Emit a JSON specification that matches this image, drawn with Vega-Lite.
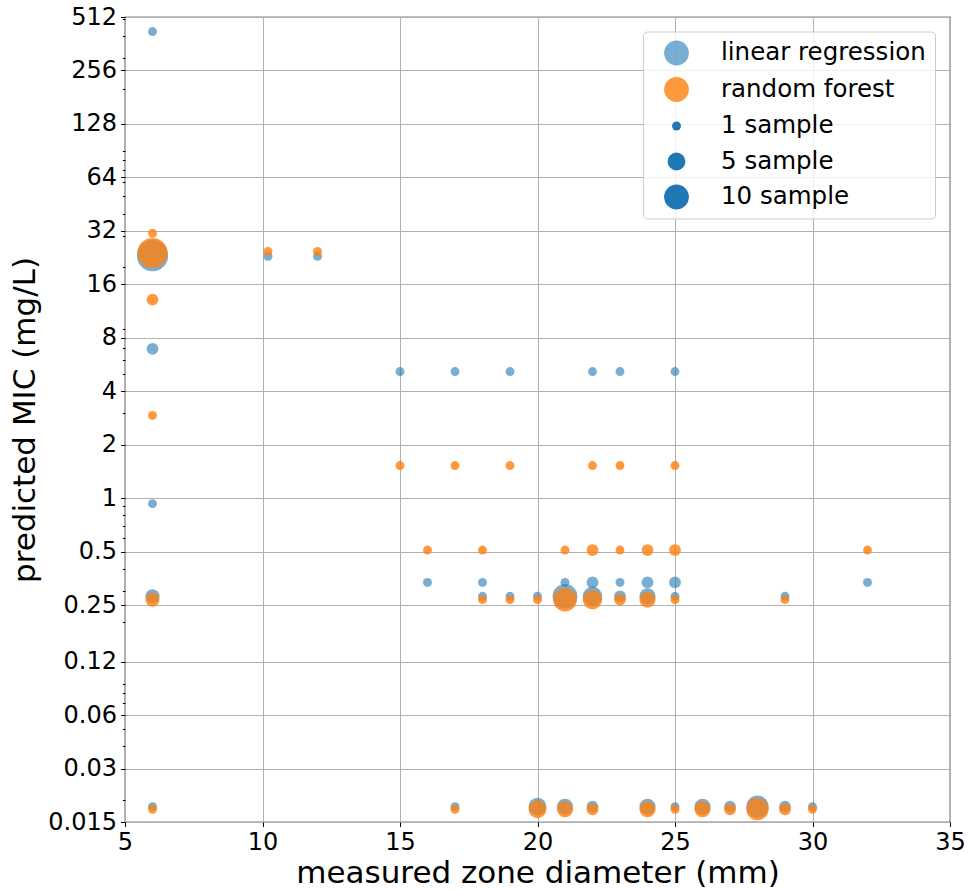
{
  "$schema": "https://vega.github.io/schema/vega-lite/v6.json",
  "width": 825,
  "height": 805,
  "autosize": {"type": "none"},
  "padding": {"left": 125, "top": 17, "right": 18, "bottom": 68},
  "background": "white",
  "config": {
    "font": "DejaVu Sans",
    "view": {"stroke": "#000000", "strokeWidth": 1.2},
    "axis": {
      "domain": false,
      "grid": true,
      "gridColor": "#b0b0b0",
      "gridWidth": 1,
      "tickColor": "#000000",
      "tickWidth": 1,
      "labelColor": "#000000",
      "labelFont": "DejaVu Sans",
      "labelFontSize": 24,
      "titleFont": "DejaVu Sans",
      "titleFontSize": 31,
      "titleFontWeight": "normal",
      "titleColor": "#000000",
      "labelFlush": false,
      "labelOverlap": false,
      "labelBound": false
    }
  },
  "data": {
    "values": [
      {"zone": 6, "mic": 424, "model": "linear regression", "count": 1},
      {"zone": 6, "mic": 23.2, "model": "linear regression", "count": 16},
      {"zone": 6, "mic": 6.93, "model": "linear regression", "count": 2},
      {"zone": 6, "mic": 0.93, "model": "linear regression", "count": 1},
      {"zone": 6, "mic": 0.28, "model": "linear regression", "count": 3},
      {"zone": 6, "mic": 0.0183, "model": "linear regression", "count": 1},
      {"zone": 10.2, "mic": 23, "model": "linear regression", "count": 1},
      {"zone": 12, "mic": 23, "model": "linear regression", "count": 1},
      {"zone": 15, "mic": 5.16, "model": "linear regression", "count": 1},
      {"zone": 17, "mic": 5.16, "model": "linear regression", "count": 1},
      {"zone": 19, "mic": 5.16, "model": "linear regression", "count": 1},
      {"zone": 22, "mic": 5.16, "model": "linear regression", "count": 1},
      {"zone": 23, "mic": 5.16, "model": "linear regression", "count": 1},
      {"zone": 25, "mic": 5.16, "model": "linear regression", "count": 1},
      {"zone": 16, "mic": 0.335, "model": "linear regression", "count": 1},
      {"zone": 18, "mic": 0.335, "model": "linear regression", "count": 1},
      {"zone": 21, "mic": 0.335, "model": "linear regression", "count": 1},
      {"zone": 22, "mic": 0.335, "model": "linear regression", "count": 2},
      {"zone": 23, "mic": 0.335, "model": "linear regression", "count": 1},
      {"zone": 24, "mic": 0.335, "model": "linear regression", "count": 2},
      {"zone": 25, "mic": 0.335, "model": "linear regression", "count": 2},
      {"zone": 32, "mic": 0.335, "model": "linear regression", "count": 1},
      {"zone": 18, "mic": 0.28, "model": "linear regression", "count": 1},
      {"zone": 19, "mic": 0.28, "model": "linear regression", "count": 1},
      {"zone": 20, "mic": 0.28, "model": "linear regression", "count": 1},
      {"zone": 21, "mic": 0.28, "model": "linear regression", "count": 10},
      {"zone": 22, "mic": 0.28, "model": "linear regression", "count": 6},
      {"zone": 23, "mic": 0.28, "model": "linear regression", "count": 2},
      {"zone": 24, "mic": 0.28, "model": "linear regression", "count": 4},
      {"zone": 25, "mic": 0.28, "model": "linear regression", "count": 1},
      {"zone": 29, "mic": 0.28, "model": "linear regression", "count": 1},
      {"zone": 17, "mic": 0.0183, "model": "linear regression", "count": 1},
      {"zone": 20, "mic": 0.0183, "model": "linear regression", "count": 5},
      {"zone": 21, "mic": 0.0183, "model": "linear regression", "count": 4},
      {"zone": 22, "mic": 0.0183, "model": "linear regression", "count": 2},
      {"zone": 24, "mic": 0.0183, "model": "linear regression", "count": 4},
      {"zone": 25, "mic": 0.0183, "model": "linear regression", "count": 1},
      {"zone": 26, "mic": 0.0183, "model": "linear regression", "count": 4},
      {"zone": 27, "mic": 0.0183, "model": "linear regression", "count": 2},
      {"zone": 28, "mic": 0.0183, "model": "linear regression", "count": 8},
      {"zone": 29, "mic": 0.0183, "model": "linear regression", "count": 2},
      {"zone": 30, "mic": 0.0183, "model": "linear regression", "count": 1},
      {"zone": 6, "mic": 31, "model": "random forest", "count": 1},
      {"zone": 6, "mic": 24, "model": "random forest", "count": 15},
      {"zone": 6, "mic": 13.1, "model": "random forest", "count": 2},
      {"zone": 6, "mic": 2.92, "model": "random forest", "count": 1},
      {"zone": 6, "mic": 0.268, "model": "random forest", "count": 3},
      {"zone": 6, "mic": 0.0177, "model": "random forest", "count": 1},
      {"zone": 10.2, "mic": 24.5, "model": "random forest", "count": 1},
      {"zone": 12, "mic": 24.5, "model": "random forest", "count": 1},
      {"zone": 15, "mic": 1.525, "model": "random forest", "count": 1},
      {"zone": 17, "mic": 1.525, "model": "random forest", "count": 1},
      {"zone": 19, "mic": 1.525, "model": "random forest", "count": 1},
      {"zone": 22, "mic": 1.525, "model": "random forest", "count": 1},
      {"zone": 23, "mic": 1.525, "model": "random forest", "count": 1},
      {"zone": 25, "mic": 1.525, "model": "random forest", "count": 1},
      {"zone": 16, "mic": 0.51, "model": "random forest", "count": 1},
      {"zone": 18, "mic": 0.51, "model": "random forest", "count": 1},
      {"zone": 21, "mic": 0.51, "model": "random forest", "count": 1},
      {"zone": 22, "mic": 0.51, "model": "random forest", "count": 2},
      {"zone": 23, "mic": 0.51, "model": "random forest", "count": 1},
      {"zone": 24, "mic": 0.51, "model": "random forest", "count": 2},
      {"zone": 25, "mic": 0.51, "model": "random forest", "count": 2},
      {"zone": 32, "mic": 0.51, "model": "random forest", "count": 1},
      {"zone": 18, "mic": 0.268, "model": "random forest", "count": 1},
      {"zone": 19, "mic": 0.268, "model": "random forest", "count": 1},
      {"zone": 20, "mic": 0.268, "model": "random forest", "count": 1},
      {"zone": 21, "mic": 0.268, "model": "random forest", "count": 9},
      {"zone": 22, "mic": 0.268, "model": "random forest", "count": 6},
      {"zone": 23, "mic": 0.268, "model": "random forest", "count": 2},
      {"zone": 24, "mic": 0.268, "model": "random forest", "count": 4},
      {"zone": 25, "mic": 0.268, "model": "random forest", "count": 1},
      {"zone": 29, "mic": 0.268, "model": "random forest", "count": 1},
      {"zone": 17, "mic": 0.0177, "model": "random forest", "count": 1},
      {"zone": 20, "mic": 0.0177, "model": "random forest", "count": 5},
      {"zone": 21, "mic": 0.0177, "model": "random forest", "count": 4},
      {"zone": 22, "mic": 0.0177, "model": "random forest", "count": 2},
      {"zone": 24, "mic": 0.0177, "model": "random forest", "count": 4},
      {"zone": 25, "mic": 0.0177, "model": "random forest", "count": 1},
      {"zone": 26, "mic": 0.0177, "model": "random forest", "count": 4},
      {"zone": 27, "mic": 0.0177, "model": "random forest", "count": 2},
      {"zone": 28, "mic": 0.0177, "model": "random forest", "count": 8},
      {"zone": 29, "mic": 0.0177, "model": "random forest", "count": 2},
      {"zone": 30, "mic": 0.0177, "model": "random forest", "count": 1}
    ]
  },
  "mark": {"type": "point", "filled": true, "strokeWidth": 0},
  "encoding": {
    "x": {
      "field": "zone",
      "type": "quantitative",
      "scale": {"domain": [5, 35], "nice": false, "zero": false},
      "axis": {
        "values": [5, 10, 15, 20, 25, 30, 35],
        "title": "measured zone diameter (mm)",
        "tickSize": 4.5,
        "labelPadding": 4,
        "titlePadding": 4
      }
    },
    "y": {
      "field": "mic",
      "type": "quantitative",
      "scale": {"type": "log", "domain": [0.015, 512], "nice": false},
      "axis": {
        "values": [0.015, 0.03, 0.06, 0.12, 0.25, 0.5, 1, 2, 4, 8, 16, 32, 64, 128, 256, 512,
                   0.02, 0.04, 0.05, 0.07, 0.08, 0.09, 0.2, 0.3, 0.4, 0.6, 0.7, 0.8, 0.9,
                   3, 5, 6, 7, 9, 20, 30, 40, 50, 60, 70, 80, 90, 200, 300, 400, 500],
        "labelExpr": "indexof([0.015, 0.03, 0.06, 0.12, 0.25, 0.5, 1, 2, 4, 8, 16, 32, 64, 128, 256, 512], datum.value) >= 0 ? '' + datum.value : ''",
        "tickSize": {"condition": {"test": "indexof([0.015, 0.03, 0.06, 0.12, 0.25, 0.5, 1, 2, 4, 8, 16, 32, 64, 128, 256, 512], datum.value) >= 0", "value": 4.5}, "value": 2.6},
        "gridOpacity": {"condition": {"test": "indexof([0.015, 0.03, 0.06, 0.12, 0.25, 0.5, 1, 2, 4, 8, 16, 32, 64, 128, 256, 512], datum.value) >= 0", "value": 1}, "value": 0},
        "title": "predicted MIC (mg/L)",
        "labelPadding": 4,
        "titlePadding": 6
      }
    },
    "color": {
      "field": "model",
      "type": "nominal",
      "scale": {
        "domain": ["linear regression", "random forest", "1 sample", "5 sample", "10 sample"],
        "range": ["#1f77b4", "#ff7f0e", "#1f77b4", "#1f77b4", "#1f77b4"]
      },
      "legend": {
        "title": null,
        "orient": "none",
        "legendX": 518,
        "legendY": 14.5,
        "padding": 9,
        "fillColor": "rgba(255,255,255,0.8)",
        "strokeColor": "#cccccc",
        "cornerRadius": 4,
        "symbolType": "circle",
        "symbolSize": 615,
        "symbolStrokeWidth": 0,
        "symbolOffset": 12,
        "labelOffset": 32,
        "labelFontSize": 24.5,
        "labelFont": "DejaVu Sans",
        "labelColor": "#000000",
        "labelLimit": 400,
        "rowPadding": 10.5,
        "encoding": {
          "symbols": {
            "size": {"value": {"expr": "datum.value === '1 sample' ? 79 : datum.value === '5 sample' ? 317 : 615"}},
            "opacity": {"value": {"expr": "datum.value === 'linear regression' ? 0.6 : datum.value === 'random forest' ? 0.8 : 1"}}
          }
        }
      }
    },
    "size": {
      "field": "count",
      "type": "quantitative",
      "scale": {"domain": [0, 10], "range": [20, 615]},
      "legend": null
    },
    "opacity": {
      "condition": {"test": "datum.model === 'linear regression'", "value": 0.6},
      "value": 0.8
    }
  }
}
